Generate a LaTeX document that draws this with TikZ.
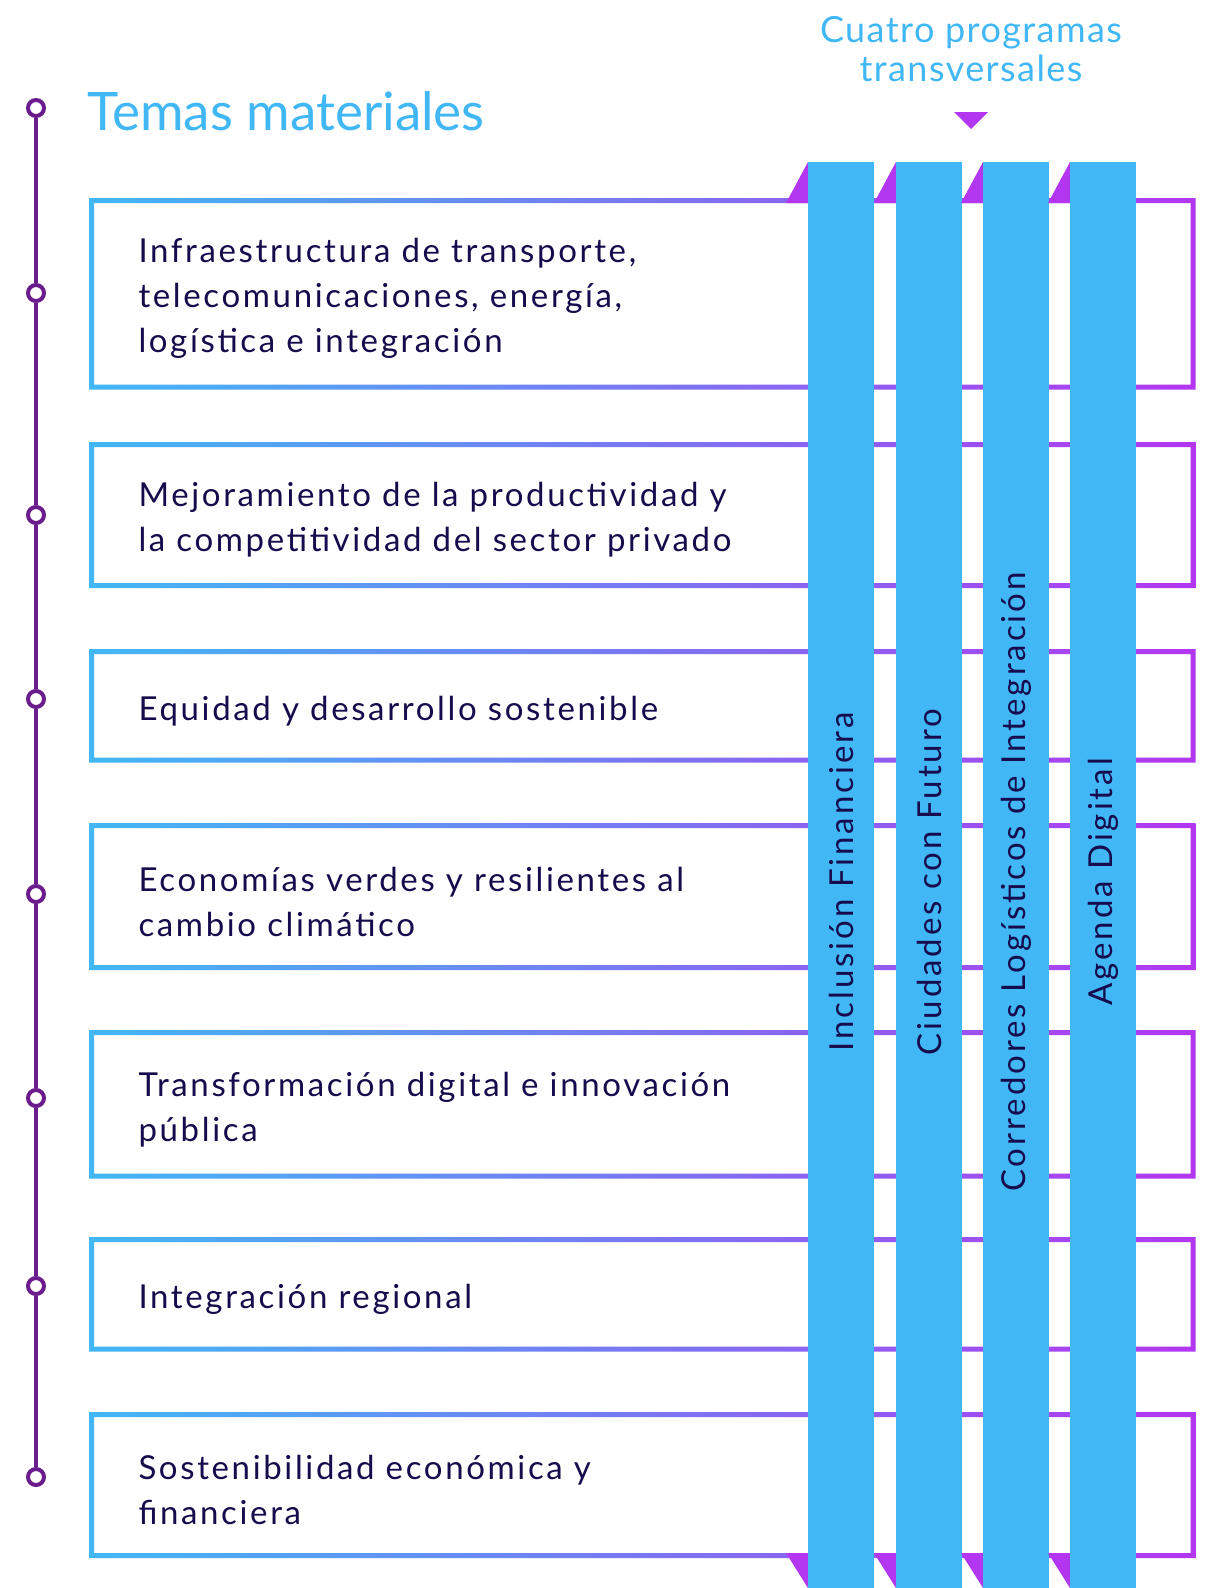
\documentclass[tikz,border=0pt]{standalone}
\usepackage{fontspec}
\setmainfont{Lato}
\definecolor{cblue}{HTML}{41B8F5}
\definecolor{cpurple}{HTML}{B336F0}
\definecolor{cline}{HTML}{6B1C8C}
\definecolor{cnavy}{HTML}{160B4C}
\begin{document}
\begin{tikzpicture}[x=1pt,y=-1pt,
		dot/.style={circle,draw=cline,line width=4pt,fill=white,minimum size=16pt,inner sep=0pt},
		tline/.style={cline,line width=4pt},
		tema/.style={anchor=west,align=left,text=cnavy,font=\fontsize{33}{45}\selectfont\addfontfeature{LetterSpace=8}},
		prog/.style={rotate=90,text=cnavy,font=\fontsize{33}{40}\selectfont\addfontfeature{LetterSpace=9}},
		head/.style={text=cblue,inner sep=0pt}]

		\fill[white] (0,0) rectangle (1211,1588);
		\useasboundingbox (0,0) rectangle (1211,1588);

		% titles
		\node[head,anchor=base west,font=\fontsize{53}{60}\selectfont] (titulo) at (87,130) {Temas materiales};
		\node[head,anchor=base,font=\fontsize{36}{40}\selectfont\addfontfeature{LetterSpace=4}] (hd1) at (971,42) {Cuatro programas};
		\node[head,anchor=base,font=\fontsize{36}{40}\selectfont\addfontfeature{LetterSpace=4}] (hd2) at (971,81) {transversales};
		\fill[cpurple] (954,112) -- (988,112) -- (971,129) -- cycle;

		% boxes
		\foreach \i/\ya/\yb/\txt in {
			1/200.5/387/{Infraestructura de transporte,\\telecomunicaciones, energía,\\logística e integración},
			2/444.5/585.5/{Mejoramiento de la productividad y\\la competitividad del sector privado},
			3/651.5/760/{Equidad y desarrollo sostenible},
			4/825.5/967.5/{Economías verdes y resilientes al\\cambio climático},
			5/1032.5/1176/{Transformación digital e innovación\\pública},
			6/1239.5/1349/{Integración regional},
			7/1414.5/1555.5/{Sostenibilidad económica y\\financiera}}{
			\shade[left color=cblue,right color=cpurple,even odd rule]
				(89,\ya-2.5) rectangle (1195.5,\yb+2.5) (94,\ya+2.5) rectangle (1190.5,\yb-2.5);
			\node[tema] (t\i) at (135,{(\ya+\yb)/2+5}) {\txt};
		}

		% programas
		\foreach \i/\xl/\txt in {1/808/Inclusión Financiera, 2/896/Ciudades con Futuro,
			3/983/Corredores Logísticos de Integración, 4/1070/Agenda Digital}{
			\fill[cpurple] (\xl-22,203) -- (\xl,162) -- (\xl,203) -- cycle;
			\fill[cpurple] (\xl-22,1553) -- (\xl,1553) -- (\xl,1588) -- cycle;
			\fill[cblue] (\xl,162) rectangle (\xl+66,1588);
			\node[prog] (p\i) at (\xl+33,882) {\txt};
		}

		% timeline
		\foreach \i/\y in {1/108,2/293,3/515,4/699,5/894,6/1098,7/1286,8/1477}
		\node[dot] (c\i) at (36,\y) {};

		\foreach \source/\dest in {c1/c2, c2/c3, c3/c4, c4/c5, c5/c6, c6/c7, c7/c8}
		\draw[tline] (\source) -- (\dest);

	\end{tikzpicture}
\end{document}
